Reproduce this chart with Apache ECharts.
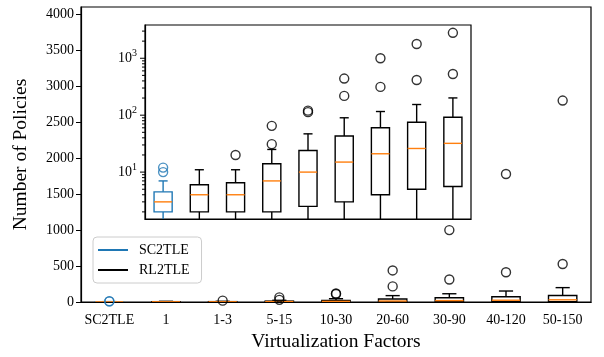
<!DOCTYPE html>
<html>
<head>
<meta charset="utf-8">
<script src="https://cdn.jsdelivr.net/npm/echarts@6/dist/echarts.min.js"></script>
<style>
  html, body { margin: 0; padding: 0; background: #fff; }
  #chart { width: 604px; height: 357px; }
</style>
</head>
<body>
<div id="chart"></div>
<script>
// Chart data
const categories = ["SC2TLE", "1", "1-3", "5-15", "10-30", "20-60", "30-90", "40-120", "50-150"];
const whiskerLow = [1, 1, 1, 1, 1, 1, 1, 1, 1];
const q1 = [2, 2, 2, 2, 2.5, 3, 4, 5, 5.6];
const median = [3, 4, 4, 7, 10, 15, 21, 26, 32];
const q3 = [4.5, 6, 6.5, 14, 24, 43, 60, 75, 92];
const whiskerHigh = [7, 11, 11, 25, 47, 90, 116, 154, 201];
const outliers = [[10, 12], [], [20], [31, 65], [113, 120], [218, 440], [314, 1000], [415, 1780], [530, 2800]];
const yTicks = [0, 500, 1000, 1500, 2000, 2500, 3000, 3500, 4000];
const insetMajorTicks = [10, 100, 1000];
const insetMinorTicks = [2, 3, 4, 5, 6, 7, 8, 9, 20, 30, 40, 50, 60, 70, 80, 90,
  200, 300, 400, 500, 600, 700, 800, 900, 2000, 3000];

const BLUE = "#1f77b4";
const ORANGE = "#ff7f0e";
const FONT = "Liberation Serif";

const boxRows = (idx) => idx.map((i) => [i, whiskerLow[i], q1[i], median[i], q3[i], whiskerHigh[i]]);
const outlierRows = (idx) => idx.flatMap((i) => outliers[i].map((v) => [i, v]));
const sc2 = [0];
const rl2 = [1, 2, 3, 4, 5, 6, 7, 8];

function renderBox(params, api) {
  const i = api.value(0);
  const cx = api.coord([i, 1])[0];
  const half = (api.coord([1, 1])[0] - api.coord([0, 1])[0]) * 0.25;
  const y = (k) => api.coord([i, api.value(k)])[1];
  const yLo = y(1), yQ1 = y(2), yMed = y(3), yQ3 = y(4), yHi = y(5);
  const color = api.visual("color");
  const line = (x1, y1, x2, y2, stroke) => ({
    type: "line",
    shape: { x1, y1, x2, y2 },
    style: { stroke, lineWidth: 1.4 },
  });
  return {
    type: "group",
    children: [
      line(cx, yLo, cx, yQ1, color),
      line(cx, yQ3, cx, yHi, color),
      line(cx - half / 2, yLo, cx + half / 2, yLo, color),
      line(cx - half / 2, yHi, cx + half / 2, yHi, color),
      {
        type: "rect",
        shape: { x: cx - half, y: yQ3, width: 2 * half, height: yQ1 - yQ3 },
        style: { stroke: color, fill: "none", lineWidth: 1.4 },
      },
      line(cx - half, yMed, cx + half, yMed, ORANGE),
    ],
  };
}

// matplotlib-style ticks on the log inset axis (major + minor)
function renderTick(params, api) {
  const p = api.coord([0, api.value(1)]);
  const left = params.coordSys.x;
  const len = api.value(2) ? 5 : 3;
  return {
    type: "line",
    shape: { x1: left - len, y1: p[1], x2: left, y2: p[1] },
    style: { stroke: "#000", lineWidth: 1 },
  };
}

function boxSeries(name, idx, color, axis) {
  return {
    name,
    type: "custom",
    xAxisIndex: axis,
    yAxisIndex: axis,
    clip: true,
    silent: true,
    itemStyle: { color },
    encode: { x: 0, y: [1, 2, 3, 4, 5] },
    renderItem: renderBox,
    data: boxRows(idx),
  };
}

function flierSeries(name, idx, color, axis) {
  return {
    name,
    type: "scatter",
    xAxisIndex: axis,
    yAxisIndex: axis,
    symbol: "circle",
    symbolSize: 9,
    clip: true,
    silent: true,
    itemStyle: { color: "rgba(0,0,0,0)", borderColor: color, borderWidth: 1.4 },
    data: outlierRows(idx),
  };
}

const chart = echarts.init(document.getElementById("chart"));

const axisText = { color: "#000", fontFamily: FONT, fontSize: 14 };

chart.setOption({
  animation: false,
  textStyle: { fontFamily: FONT },
  grid: [
    { left: 81, right: 13, top: 7, bottom: 53, show: true, borderColor: "#000", borderWidth: 1.2 },
    { left: 145, right: 133, top: 25, bottom: 138, show: true, backgroundColor: "#fff",
      borderColor: "#000", borderWidth: 1.2 },
  ],
  legend: {
    orient: "vertical",
    left: 93,
    top: 237,
    itemWidth: 30,
    itemHeight: 2,
    itemGap: 6,
    padding: [6, 12, 6, 5],
    borderColor: "#ccc",
    borderWidth: 1,
    borderRadius: 4,
    backgroundColor: "rgba(255,255,255,0.8)",
    textStyle: { ...axisText, padding: [0, 0, 0, 6] },
    data: [
      { name: "SC2TLE", icon: "rect", itemStyle: { color: BLUE } },
      { name: "RL2TLE", icon: "rect", itemStyle: { color: "#000" } },
    ],
  },
  xAxis: [
    {
      type: "category",
      gridIndex: 0,
      data: categories,
      boundaryGap: true,
      name: "Virtualization Factors",
      nameLocation: "middle",
      nameGap: 29,
      nameTextStyle: { ...axisText, fontSize: 19.5 },
      axisLine: { lineStyle: { color: "#000", width: 1.2 } },
      axisTick: { alignWithLabel: true, length: 5, lineStyle: { color: "#000" } },
      axisLabel: { ...axisText, margin: 11, interval: 0 },
    },
    {
      type: "category",
      gridIndex: 1,
      data: categories,
      boundaryGap: true,
      axisLine: { lineStyle: { color: "#000", width: 1.2 } },
      axisTick: { show: false },
      axisLabel: { show: false },
    },
  ],
  yAxis: [
    {
      type: "value",
      gridIndex: 0,
      min: 0,
      max: 4100,
      interval: 500,
      name: "Number of Policies",
      nameLocation: "middle",
      nameGap: 50,
      nameTextStyle: { ...axisText, fontSize: 19.5 },
      splitLine: { show: false },
      axisLine: { show: true, lineStyle: { color: "#000", width: 1.2 } },
      axisTick: { show: true, length: 5, customValues: yTicks, lineStyle: { color: "#000" } },
      axisLabel: { ...axisText, margin: 7, customValues: yTicks, formatter: (v) => String(v) },
    },
    {
      type: "log",
      logBase: 10,
      gridIndex: 1,
      min: 1.5,
      max: 3840,
      splitLine: { show: false },
      axisLine: { show: true, lineStyle: { color: "#000", width: 1.2 } },
      axisTick: { show: false },
      axisLabel: {
        ...axisText,
        margin: 8,
        formatter: (v) => {
          const e = Math.round(Math.log10(v));
          if (Math.abs(Math.pow(10, e) - v) > 1e-6 * v) return "";
          return "{b|10}{s|" + e + "}";
        },
        rich: {
          b: { fontFamily: FONT, fontSize: 14, color: "#000" },
          s: { fontFamily: FONT, fontSize: 10, color: "#000", padding: [0, 0, 9, 0] },
        },
      },
    },
  ],
  series: [
    boxSeries("SC2TLE", sc2, BLUE, 0),
    boxSeries("RL2TLE", rl2, "#000", 0),
    flierSeries("SC2TLE", sc2, BLUE, 0),
    flierSeries("RL2TLE", rl2, "#000", 0),
    boxSeries("SC2TLE", sc2, BLUE, 1),
    boxSeries("RL2TLE", rl2, "#000", 1),
    flierSeries("SC2TLE", sc2, BLUE, 1),
    flierSeries("RL2TLE", rl2, "#000", 1),
    {
      name: "insetTicks",
      type: "custom",
      xAxisIndex: 1,
      yAxisIndex: 1,
      clip: false,
      silent: true,
      encode: { x: 0, y: 1 },
      renderItem: renderTick,
      data: insetMajorTicks.map((v) => [0, v, 1]).concat(insetMinorTicks.map((v) => [0, v, 0])),
    },
  ],
});
</script>
</body>
</html>
